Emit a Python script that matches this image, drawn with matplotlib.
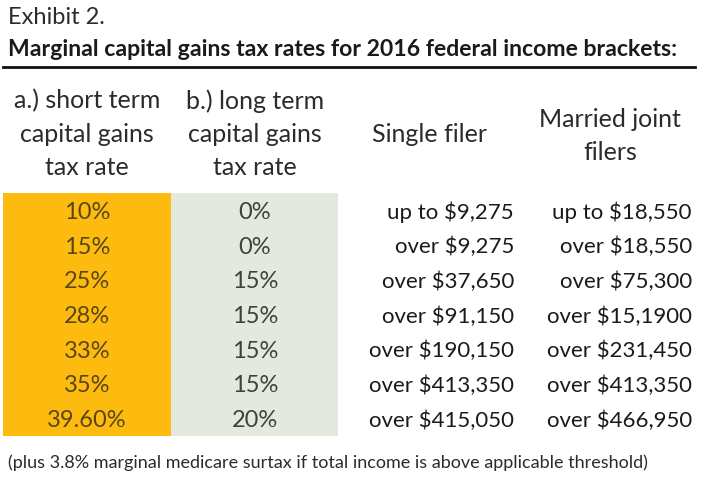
import matplotlib.pyplot as plt
from matplotlib.patches import Rectangle

plt.rcParams['font.family'] = ['Lato', 'DejaVu Sans']

# Table contents
short_term = ["10%", "15%", "25%", "28%", "33%", "35%", "39.60%"]
long_term = ["0%", "0%", "15%", "15%", "15%", "15%", "20%"]
single = ["up to $9,275", "over $9,275", "over $37,650", "over $91,150",
          "over $190,150", "over $413,350", "over $415,050"]
married = ["up to $18,550", "over $18,550", "over $75,300", "over $15,1900",
           "over $231,450", "over $413,350", "over $466,950"]
headers = ["a.) short term\ncapital gains\ntax rate",
           "b.) long term\ncapital gains\ntax rate",
           "Single filer",
           "Married joint\nfilers"]

fig = plt.figure(figsize=(7.04, 4.87), dpi=100)
ax = fig.add_axes([0, 0, 1, 1])
ax.set_xlim(0, 704)
ax.set_ylim(487, 0)
ax.axis("off")

txt = "#2b2b2b"

# Titles
ax.text(8, 18, "Exhibit 2.", fontsize=17, color=txt, va="center", ha="left")
ax.text(8, 50, "Marginal capital gains tax rates for 2016 federal income brackets:",
        fontsize=16.6, fontweight="bold", color="#1a1a1a", va="center", ha="left")
ax.plot([3, 695], [67, 67], color="#111111", lw=2)

# Header row
hs = 18
ax.text(87, 134, headers[0], fontsize=hs, color=txt, ha="center", va="center",
        linespacing=1.52)
ax.text(255, 134, headers[1], fontsize=hs, color=txt, ha="center", va="center",
        linespacing=1.52)
ax.text(430, 135, headers[2], fontsize=hs, color=txt, ha="center", va="center")
ax.text(610, 136, headers[3], fontsize=hs, color=txt, ha="center", va="center",
        linespacing=1.52)

# Coloured column backgrounds
top, row_h = 193, 34.7
n = len(short_term)
ax.add_patch(Rectangle((3, top), 168, row_h * n, color="#FDBB10", lw=0))
ax.add_patch(Rectangle((171, top), 167, row_h * n, color="#E3E9DE", lw=0))

ds = 16
for i in range(n):
    y = top + 2 + row_h * (i + 0.5)
    ax.text(87, y, short_term[i], fontsize=ds + 1, color="#5a4613", ha="center", va="center")
    ax.text(255, y, long_term[i], fontsize=ds + 1, color="#3c423c", ha="center", va="center")
    ax.text(514, y, single[i], fontsize=ds, color="#1a1a1a", ha="right", va="center")
    ax.text(692, y, married[i], fontsize=ds, color="#1a1a1a", ha="right", va="center")

ax.text(8, 463, "(plus 3.8% marginal medicare surtax if total income is above applicable threshold)",
        fontsize=13, color=txt, ha="left", va="center")

fig.savefig("out.png", dpi=100)
